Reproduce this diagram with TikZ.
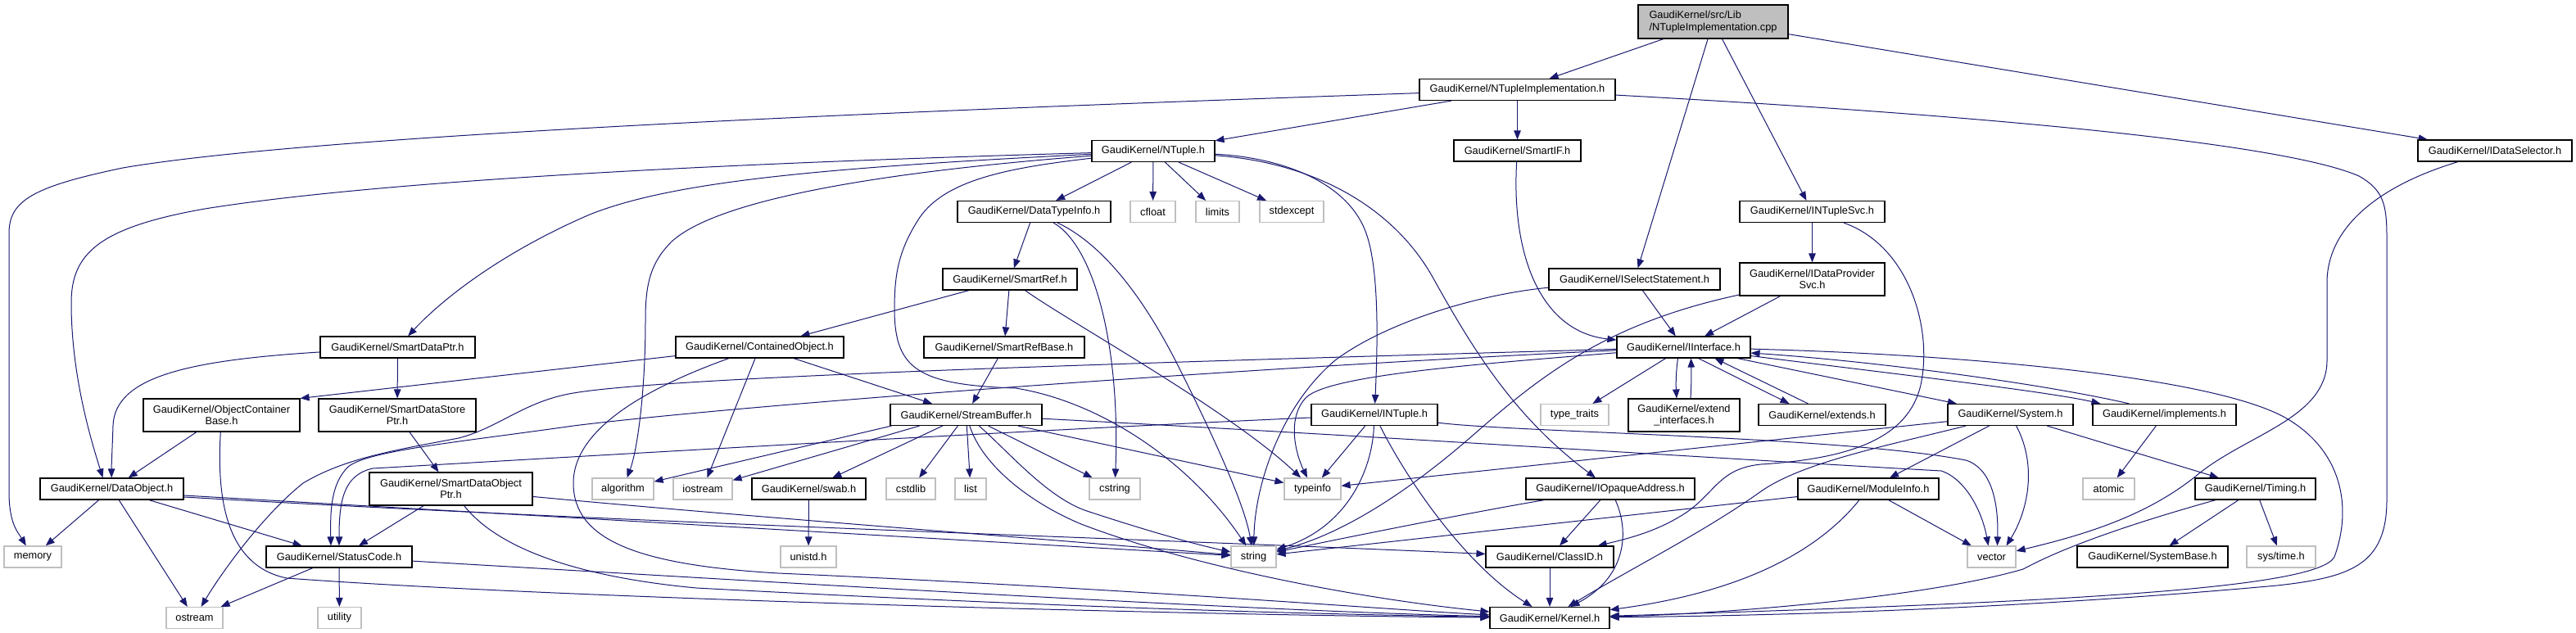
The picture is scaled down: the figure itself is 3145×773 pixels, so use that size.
\documentclass[tikz,border=0pt]{standalone}
\usepackage{fontspec}
\setmainfont{Liberation Sans}
\usetikzlibrary{arrows.meta,calc}
\definecolor{edgec}{HTML}{191970}
\definecolor{graybd}{HTML}{BFBFBF}
\definecolor{rootfill}{HTML}{BFBFBF}
\pgfdeclarelayer{bg}
\pgfsetlayers{bg,main}
\tikzset{
  hdr/.style={draw=black, fill=white, line width=1.15pt, inner sep=0pt, minimum height=26pt, font=\fontsize{12.8pt}{14.5pt}\selectfont},
  sys/.style={hdr, draw=graybd},
  edg/.style={draw=edgec, line width=1.0pt, -{Triangle[length=11pt,width=8.5pt]}},
}
\begin{document}
\begin{tikzpicture}[x=1pt,y=-1pt]
\useasboundingbox (0,0) rectangle (3145,773);
% nodes
\node[hdr, fill=rootfill, minimum width=183pt, minimum height=41pt, align=left] (root) at (2091.5,26.5) {GaudiKernel/src/Lib\\/NTupleImplementation.cpp};
\node[hdr, minimum width=239pt] (ntimplh) at (1852.5,109.5) {GaudiKernel/NTupleImplementation.h};
\node[hdr, minimum width=155pt] (smartif) at (1852.5,184) {GaudiKernel/SmartIF.h};
\node[hdr, minimum width=177pt] (intuplesvc) at (2212.5,258.5) {GaudiKernel/INTupleSvc.h};
\node[hdr, minimum width=209pt] (iselect) at (1995.5,341) {GaudiKernel/ISelectStatement.h};
\node[hdr, minimum width=177pt, minimum height=40pt, align=center] (idps) at (2212.5,341) {GaudiKernel/IDataProvider\\Svc.h};
\node[hdr, minimum width=188pt] (idsel) at (3046,184) {GaudiKernel/IDataSelector.h};
\node[hdr, minimum width=150pt] (ntuple) at (1408,184.5) {GaudiKernel/NTuple.h};
\node[hdr, minimum width=187pt] (dti) at (1262.5,258.5) {GaudiKernel/DataTypeInfo.h};
\node[sys, minimum width=55pt] (cfloat) at (1407.5,258.5) {cfloat};
\node[sys, minimum width=53pt] (limits) at (1486.5,258.5) {limits};
\node[sys, minimum width=78pt] (stdexcept) at (1577,258.5) {stdexcept};
\node[hdr, minimum width=164pt] (smartref) at (1233,341) {GaudiKernel/SmartRef.h};
\node[hdr, minimum width=189pt] (sdp) at (485.5,424) {GaudiKernel/SmartDataPtr.h};
\node[hdr, minimum width=205pt] (contobj) at (927.5,424) {GaudiKernel/ContainedObject.h};
\node[hdr, minimum width=196pt] (srb) at (1226,424) {GaudiKernel/SmartRefBase.h};
\node[hdr, minimum width=163pt] (iinterface) at (2055.5,424) {GaudiKernel/IInterface.h};
\node[hdr, minimum width=191pt, minimum height=40pt, align=center] (ocb) at (270.5,507) {GaudiKernel/ObjectContainer\\Base.h};
\node[hdr, minimum width=192pt, minimum height=40pt, align=center] (sdsp) at (485,507) {GaudiKernel/SmartDataStore\\Ptr.h};
\node[hdr, minimum width=185pt] (sb) at (1179.5,506.5) {GaudiKernel/StreamBuffer.h};
\node[hdr, minimum width=154pt] (intuple) at (1678,506.5) {GaudiKernel/INTuple.h};
\node[sys, minimum width=83pt] (typetraits) at (1922.5,506.5) {type\_traits};
\node[hdr, minimum width=136pt, minimum height=40pt, align=center] (extif) at (2056,507) {GaudiKernel/extend\\\_interfaces.h};
\node[hdr, minimum width=155pt] (extends) at (2224.5,506.5) {GaudiKernel/extends.h};
\node[hdr, minimum width=153pt] (system) at (2454.5,506.5) {GaudiKernel/System.h};
\node[hdr, minimum width=175pt] (implements) at (2642.5,506.5) {GaudiKernel/implements.h};
\node[hdr, minimum width=175pt] (dobj) at (136.5,597) {GaudiKernel/DataObject.h};
\node[hdr, minimum width=199pt, minimum height=40pt, align=center] (sdop) at (550.5,597) {GaudiKernel/SmartDataObject\\Ptr.h};
\node[sys, minimum width=75pt] (algorithm) at (760.5,597) {algorithm};
\node[sys, minimum width=72pt] (iostream) at (858,597) {iostream};
\node[hdr, minimum width=139pt] (swab) at (987.5,597) {GaudiKernel/swab.h};
\node[sys, minimum width=60pt] (cstdlib) at (1112,597) {cstdlib};
\node[sys, minimum width=38pt] (list) at (1185,597) {list};
\node[sys, minimum width=62pt] (cstring) at (1361,597) {cstring};
\node[sys, minimum width=69pt] (typeinfo) at (1602.5,597) {typeinfo};
\node[hdr, minimum width=206pt] (iopaque) at (1966,597) {GaudiKernel/IOpaqueAddress.h};
\node[hdr, minimum width=172pt] (moduleinfo) at (2281,597) {GaudiKernel/ModuleInfo.h};
\node[sys, minimum width=63pt] (atomic) at (2574.5,597) {atomic};
\node[hdr, minimum width=147pt] (timing) at (2753.5,597) {GaudiKernel/Timing.h};
\node[sys, minimum width=70pt] (memory) at (40,680) {memory};
\node[hdr, minimum width=178pt] (statuscode) at (414,680) {GaudiKernel/StatusCode.h};
\node[sys, minimum width=68pt] (unistd) at (987,680) {unistd.h};
\node[sys, minimum width=55pt] (string) at (1530.5,680) {string};
\node[hdr, minimum width=156pt] (classid) at (1892,680) {GaudiKernel/ClassID.h};
\node[sys, minimum width=59pt] (vector) at (2431.5,680) {vector};
\node[hdr, minimum width=184pt] (systembase) at (2628,680) {GaudiKernel/SystemBase.h};
\node[sys, minimum width=84pt] (systime) at (2785,680) {sys/time.h};
\node[sys, minimum width=69pt] (ostream) at (237.5,754.5) {ostream};
\node[sys, minimum width=53pt] (utility) at (414.5,754.5) {utility};
\node[hdr, minimum width=146pt] (kernel) at (1892,754.5) {GaudiKernel/Kernel.h};
% edges
\begin{pgfonlayer}{bg}
\fill[white] (0,0) rectangle (3145,773);
% root
\draw[edg] (root) -- (ntimplh);
\draw[edg] (root) -- (iselect);
\draw[edg] (root) -- (intuplesvc);
\draw[edg] (root) -- (idsel);
% NTupleImplementation.h
\draw[edg] (ntimplh) -- (ntuple);
\draw[edg] (ntimplh) -- (smartif);
\draw[edg] (ntimplh) .. controls (1200,132) and (400,162) .. (150,205) .. controls (40,228) and (11,245) .. (11,285) -- (11,600) .. controls (11,640) and (22,650) .. (memory);
\draw[edg] (ntimplh) .. controls (2500,145) and (2800,180) .. (2880,215) .. controls (2910,232) and (2914,250) .. (2914,290) -- (2914,610) .. controls (2914,690) and (2870,705) .. (2780,715) .. controls (2450,745) and (2150,752) .. (kernel);
% SmartIF.h
\draw[edg] (smartif) .. controls (1845,310) and (1880,405) .. (iinterface);
% INTupleSvc.h
\draw[edg] (intuplesvc) -- (idps);
\draw[edg] (intuplesvc) .. controls (2330,300) and (2360,400) .. (2345,470) .. controls (2330,535) and (2260,560) .. (2150,567) .. controls (2100,572) and (2095,600) .. (2060,625) .. controls (2030,645) and (2000,655) .. (classid);
% NTuple.h
\draw[edg] (ntuple) -- (dti);
\draw[edg] (ntuple) -- (cfloat);
\draw[edg] (ntuple) -- (limits);
\draw[edg] (ntuple) -- (stdexcept);
\draw[edg] (ntuple) .. controls (1000,196) and (500,215) .. (250,255) .. controls (120,278) and (87,310) .. (87,370) .. controls (87,460) and (112,540) .. ($(dobj.north)+(-11,0)$);
\draw[edg] (ntuple) .. controls (1000,205) and (820,222) .. (720,262) .. controls (620,305) and (545,360) .. (sdp);
\draw[edg] (ntuple) .. controls (1100,208) and (880,240) .. (820,295) .. controls (795,320) and (788,345) .. (788,390) .. controls (788,480) and (778,550) .. (algorithm);
\draw[edg] (ntuple) .. controls (1230,205) and (1150,220) .. (1120,270) .. controls (1095,310) and (1092,340) .. (1092,380) .. controls (1093,450) and (1120,470) .. (1240,474) .. controls (1340,490) and (1450,560) .. (string);
\draw[edg] (ntuple) .. controls (1560,192) and (1645,220) .. (1668,285) .. controls (1684,330) and (1682,420) .. (intuple);
\draw[edg] (ntuple) .. controls (1600,198) and (1700,250) .. (1750,340) .. controls (1800,430) and (1850,510) .. (iopaque);
% DataTypeInfo.h
\draw[edg] (dti) -- (smartref);
\draw[edg] (dti) .. controls (1335,300) and (1368,420) .. (cstring);
\draw[edg] (dti) .. controls (1350,300) and (1400,370) .. (1440,450) .. controls (1490,550) and (1520,620) .. (string);
% SmartRef.h
\draw[edg] (smartref) -- (contobj);
\draw[edg] (smartref) -- (srb);
\draw[edg] (smartref) .. controls (1300,390) and (1500,500) .. (typeinfo);
% SmartRefBase.h
\draw[edg] (srb) -- (sb);
% ContainedObject.h
\draw[edg] (contobj) -- (sb);
\draw[edg] (contobj) -- (iostream);
\draw[edg] ($(contobj.south west)+(0,-3)$) -- (ocb.north east);
\draw[edg] (contobj) .. controls (800,470) and (700,520) .. (700,590) .. controls (700,660) and (780,690) .. (950,700) .. controls (1400,720) and (1700,745) .. (kernel);
% StreamBuffer.h
\draw[edg] ($(sb.south west)+(2,0)$) -- (algorithm);
\draw[edg] ($(sb.south)+(-57,0)$) -- (iostream);
\draw[edg] (sb) -- (swab);
\draw[edg] (sb) -- (cstdlib);
\draw[edg] (sb) -- (list);
\draw[edg] (sb) .. controls (1230,550) and (1280,610) .. (1330,625) .. controls (1400,648) and (1460,665) .. (string);
\draw[edg] (sb) .. controls (1200,570) and (1260,615) .. (1320,640) .. controls (1450,690) and (1650,730) .. (kernel);
\draw[edg] (sb) -- (cstring);
\draw[edg] (sb) -- (typeinfo);
\draw[edg] (sb) .. controls (1600,528) and (2100,560) .. (2370,575) .. controls (2400,585) and (2420,625) .. ($(vector.north)+(-4,0)$);
% swab.h
\draw[edg] (swab) -- (unistd);
% INTuple.h
\draw[edg] (intuple) -- (typeinfo);
\draw[edg] (intuple) .. controls (1675,580) and (1640,645) .. (string);
\draw[edg] (intuple) .. controls (1720,590) and (1790,690) .. (kernel);
\draw[edg] (intuple) .. controls (1200,528) and (700,558) .. (455,572) .. controls (420,580) and (414,610) .. (statuscode.north);
\draw[edg] (intuple) .. controls (1850,528) and (2250,533) .. (2400,562) .. controls (2432,572) and (2440,615) .. ($(vector.north)+(7,0)$);
% IInterface.h
\draw[edg] (iinterface) -- (typetraits);
\draw[edg] ($(iinterface.south)+(-7,0)$) .. controls (2046,455) and (2046,470) .. ($(extif.north)+(-9,0)$);
\draw[edg] ($(extif.north)+(8,0)$) .. controls (2065,470) and (2065,455) .. ($(iinterface.south)+(9,0)$);
\draw[edg] ($(iinterface.south)+(18,0)$) -- ($(extends.north)+(-40,0)$);
\draw[edg] ($(extends.north)+(-17,0)$) -- ($(iinterface.south)+(38,0)$);
\draw[edg] (iinterface) -- (system);
\draw[edg] ($(iinterface.south east)+(0,-3)$) .. controls (2300,455) and (2500,478) .. ($(implements.north west)+(10,0)$);
\draw[edg] ($(implements.north west)+(45,0)$) .. controls (2500,470) and (2300,442) .. ($(iinterface.east)+(0,7)$);
\draw[edg] (iinterface) .. controls (2400,433) and (2700,460) .. (2790,510) .. controls (2860,550) and (2872,620) .. (2850,680) .. controls (2830,720) and (2500,736) .. (kernel);
\draw[edg] (iinterface) .. controls (1500,440) and (830,458) .. (700,480) .. controls (640,490) and (610,522) .. (560,535) .. controls (480,550) and (420,560) .. (370,590) .. controls (320,630) and (270,700) .. (ostream);
\draw[edg] (iinterface) .. controls (1500,450) and (900,495) .. (700,520) .. controls (560,540) and (450,550) .. (425,570) .. controls (405,590) and (403,620) .. ($(statuscode.north)+(-10,0)$);
\draw[edg] (iinterface) .. controls (1800,445) and (1625,458) .. (1595,485) .. controls (1572,508) and (1580,550) .. (typeinfo);
% ISelectStatement.h
\draw[edg] (iselect) -- (iinterface);
\draw[edg] (iselect) .. controls (1800,360) and (1690,395) .. (1630,440) .. controls (1565,495) and (1532,590) .. (string);
% IDataProviderSvc.h
\draw[edg] (idps) -- (iinterface);
\draw[edg] (idps) .. controls (1960,395) and (1880,460) .. (1800,530) .. controls (1720,600) and (1640,652) .. (string);
% IDataSelector.h
\draw[edg] (idsel) .. controls (2900,228) and (2841,280) .. (2841,345) -- (2841,440) .. controls (2841,510) and (2745,530) .. (2685,578) .. controls (2625,628) and (2550,652) .. (vector);
% DataObject.h
\draw[edg] (dobj) -- (memory);
\draw[edg] (dobj) -- (ostream);
\draw[edg] (dobj) -- (statuscode);
\draw[edg] ($(dobj.east)+(0,8)$) -- (string);
\draw[edg] ($(dobj.east)+(0,10)$) .. controls (800,640) and (1400,658) .. (classid);
% ObjectContainerBase.h
\draw[edg] (ocb) -- (dobj);
\draw[edg] (ocb) .. controls (265,600) and (272,690) .. (350,706) .. controls (700,732) and (1500,752) .. (kernel);
% SmartDataPtr.h
\draw[edg] (sdp) .. controls (230,440) and (140,460) .. (138,520) .. controls (137,550) and (136,570) .. (dobj);
\draw[edg] (sdp) -- (sdsp);
% SmartDataStorePtr.h
\draw[edg] (sdsp) -- (sdop);
% SmartDataObjectPtr.h
\draw[edg] (sdop) -- ($(statuscode.north)+(24,0)$);
\draw[edg] (sdop) .. controls (900,630) and (1300,660) .. (string);
\draw[edg] (sdop) .. controls (600,660) and (680,702) .. (850,718) .. controls (1300,742) and (1600,750) .. (kernel);
% StatusCode.h
\draw[edg] (statuscode) -- (ostream);
\draw[edg] (statuscode) -- (utility);
\draw[edg] (statuscode) .. controls (900,708) and (1500,745) .. (kernel);
% IOpaqueAddress.h
\draw[edg] (iopaque) .. controls (1800,625) and (1650,655) .. (string);
\draw[edg] (iopaque) -- (classid);
\draw[edg] (iopaque) .. controls (1990,650) and (1985,705) .. (kernel);
% ClassID.h
\draw[edg] (classid) -- (kernel);
% ModuleInfo.h
\draw[edg] (moduleinfo) -- (string);
\draw[edg] (moduleinfo) -- (vector);
\draw[edg] (moduleinfo) .. controls (2230,660) and (2150,720) .. (kernel);
% System.h
\draw[edg] (system) -- (moduleinfo);
\draw[edg] (system) -- (timing);
\draw[edg] (system) .. controls (2488,570) and (2475,625) .. ($(vector.north)+(18,0)$);
\draw[edg] (system) -- (typeinfo);
\draw[edg] (system) .. controls (2300,545) and (2200,565) .. (2150,600) .. controls (2080,650) and (1995,692) .. (kernel);
% Timing.h
\draw[edg] (timing) -- (systembase);
\draw[edg] (timing) -- (systime);
\draw[edg] (timing) .. controls (2600,640) and (2520,668) .. (2470,695) .. controls (2350,730) and (2100,750) .. (kernel);
% implements.h
\draw[edg] (implements) -- (atomic);
\end{pgfonlayer}
\end{tikzpicture}
\end{document}
